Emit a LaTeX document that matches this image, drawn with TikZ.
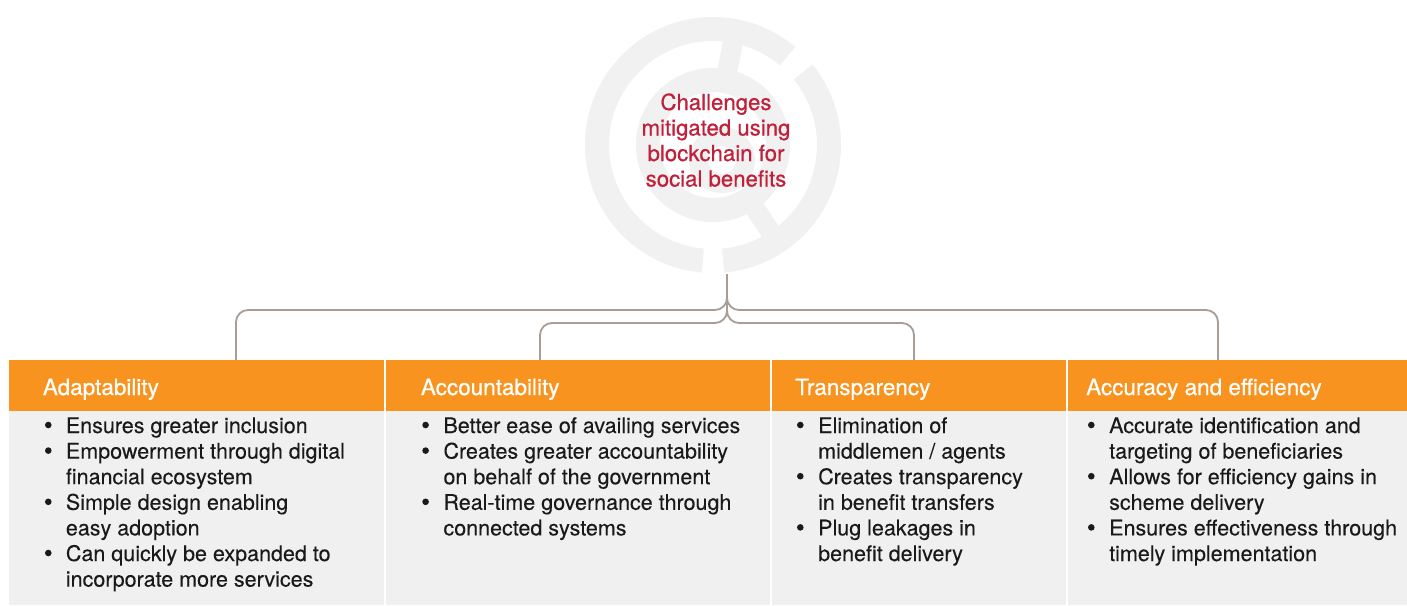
\documentclass[tikz,border=0pt]{standalone}
\usepackage{fontspec}
\setmainfont{TeX Gyre Heros}
\newfontfamily\medfont[FakeBold=0.6]{TeX Gyre Heros}
\newfontfamily\bodyfont[FakeBold=0.15]{TeX Gyre Heros}
\usetikzlibrary{calc}
\definecolor{orng}{HTML}{F7931E}
\definecolor{bodygray}{HTML}{F0F0F0}
\definecolor{logogray}{HTML}{F1F1F1}
\definecolor{conn}{HTML}{A89E96}
\definecolor{ttl}{HTML}{C1203A}
\definecolor{txt}{HTML}{1A1A1A}
\newcommand{\bulcont}{\hspace*{21.7pt}}
\newcommand{\annsec}[4]{\fill[logogray] (#1:#4) arc[start angle=#1, end angle=#2, radius=#4] -- (#2:#3) arc[start angle=#2, end angle=#1, radius=#3] -- cycle;}
\begin{document}
\begin{tikzpicture}[x=1pt,y=-1pt,
  hdrbox/.style={fill=orng, draw=none, inner sep=0, anchor=north west, minimum height=50.5pt},
  bodybox/.style={fill=bodygray, draw=none, inner sep=0, anchor=north west, minimum height=194.5pt},
  hdrtxt/.style={anchor=base west, inner sep=0, text=white, font=\medfont\fontsize{22.5}{27}\selectfont},
  bodytxt/.style={anchor=base west, inner sep=0, text=txt},
  bdot/.style={fill=txt},
  link/.style={draw=conn, line width=1.8pt, rounded corners=12pt}]
\useasboundingbox (0,0) rectangle (1407,605);
\fill[white] (0,0) rectangle (1407,605);
% logo
\begin{scope}[shift={(713,145)}, y=1pt]
  \annsec{-85}{39}{104}{128}
  \annsec{50}{265}{104}{128}
  \fill[logogray, even odd rule] (0,0) circle[radius=77] (0,0) circle[radius=53];
  \fill[logogray, rotate=79] (75,-10) rectangle (106,10);
  \fill[logogray, rotate=-56.5] (75,-10) rectangle (106,10);
  \fill[logogray, even odd rule] (9,-15) circle[radius=33] (9,-15) circle[radius=14];
\end{scope}
\node[anchor=base, inner sep=0, text=ttl] (title) at (716,110) {\parbox[t]{240pt}{\centering\medfont\fontsize{22.2}{25.5}\selectfont Challenges\\mitigated using\\blockchain for\\social benefits}};
% boxes
\node[hdrbox, minimum width=374.3pt] (h1) at (9,360) {};
\node[hdrbox, minimum width=384pt] (h2) at (385.5,360) {};
\node[hdrbox, minimum width=294.1pt] (h3) at (771.7,360) {};
\node[hdrbox, minimum width=339pt] (h4) at (1068,360) {};
\node[bodybox, minimum width=374.3pt] (b1) at (9,410.5) {};
\node[bodybox, minimum width=384pt] (b2) at (385.5,410.5) {};
\node[bodybox, minimum width=294.1pt] (b3) at (771.7,410.5) {};
\node[bodybox, minimum width=339pt] (b4) at (1068,410.5) {};
% connectors
\coordinate (stem) at (727,274);
\coordinate (split) at (727,298);
\coordinate (e1) at (236,360);
\coordinate (e2) at (540,360);
\coordinate (e3) at (914,360);
\coordinate (e4) at (1218,360);
\draw[link] (stem) -- (727,310) -- (236,310) -- (e1);
\draw[link] (stem) -- (727,310) -- (1218,310) -- (e4);
\draw[link] (split) -- (727,323) -- (540,323) -- (e2);
\draw[link] (split) -- (727,323) -- (914,323) -- (e3);
% headers
\node[hdrtxt] (t1) at (42.7,395) {Adaptability};
\node[hdrtxt] (t2) at (420.7,395) {Accountability};
\node[hdrtxt] (t3) at (795,395) {Transparency};
\node[hdrtxt] (t4) at (1086,395) {Accuracy and efficiency};
% bullets
\foreach \i in {0,1,3,5} \fill[bdot] (48.3,{425+25.6*\i}) circle[radius=3.3];
\foreach \i in {0,1,3} \fill[bdot] (425.6,{425+25.6*\i}) circle[radius=3.3];
\foreach \i in {0,2,4} \fill[bdot] (800.3,{425+25.6*\i}) circle[radius=3.3];
\foreach \i in {0,2,4} \fill[bdot] (1091.3,{425+25.6*\i}) circle[radius=3.3];
% bodies
\node[bodytxt] (l1) at (44,433) {\parbox[t]{340pt}{\bodyfont\fontsize{21.5}{25.6}\selectfont
\bulcont Ensures greater inclusion\\
\bulcont Empowerment through digital\\
\bulcont financial ecosystem\\
\bulcont Simple design enabling\\
\bulcont easy adoption\\
\bulcont Can quickly be expanded to\\
\bulcont incorporate more services}};
\node[bodytxt] (l2) at (421.6,433) {\parbox[t]{350pt}{\bodyfont\fontsize{21.5}{25.6}\selectfont
\bulcont Better ease of availing services\\
\bulcont Creates greater accountability\\
\bulcont on behalf of the government\\
\bulcont Real-time governance through\\
\bulcont connected systems}};
\node[bodytxt] (l3) at (796.3,433) {\parbox[t]{270pt}{\bodyfont\fontsize{21.5}{25.6}\selectfont
\bulcont Elimination of\\
\bulcont middlemen / agents\\
\bulcont Creates transparency\\
\bulcont in benefit transfers\\
\bulcont Plug leakages in\\
\bulcont benefit delivery}};
\node[bodytxt] (l4) at (1087.3,433) {\parbox[t]{320pt}{\bodyfont\fontsize{21.5}{25.6}\selectfont
\bulcont Accurate identification and\\
\bulcont targeting of beneficiaries\\
\bulcont Allows for efficiency gains in\\
\bulcont scheme delivery\\
\bulcont Ensures effectiveness through\\
\bulcont timely implementation}};
\end{tikzpicture}
\end{document}
